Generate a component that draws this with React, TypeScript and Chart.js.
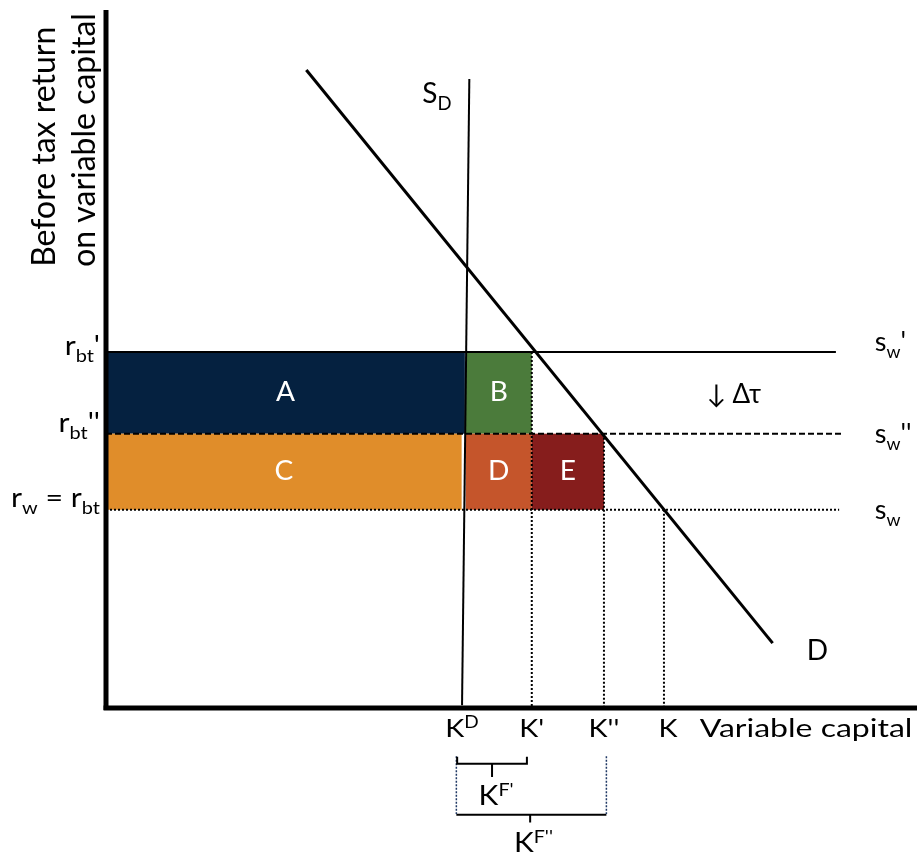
import React, { useEffect, useRef } from 'react';
import { Chart, registerables } from 'chart.js';

Chart.register(...registerables);

// ---- data (abstract units: x = capital, y = before-tax return) ----
const kLevels = [43.9, 52.5, 61.4, 68.8]; // K^D, K', K'', K
const rLevels = [51.0, 39.3, 28.4]; // r_bt', r_bt'', r_w = r_bt
const supplyEnds = [90.0, 90.9, 90.4]; // right ends of s_w', s_w'', s_w
const demandPts = [
  { x: 24.7, y: 91.4 },
  { x: 82.2, y: 9.3 },
];
const domesticSupplyPts = [
  { x: 44.8, y: 90.1 },
  { x: 43.9, y: 0.4 },
];
const areaLabels = ['A', 'B', 'C', 'D', 'E'];
const areaColors = ['#052140', '#4B7B3B', '#E08D2A', '#C5552B', '#861D1C'];
const areaX0 = [0, 44.35, 0, 44.35, kLevels[1]];
const areaX1 = [44.25, kLevels[1], 43.85, kLevels[1], kLevels[2]];
const areaY0 = [rLevels[1], rLevels[1], rLevels[2], rLevels[2], rLevels[2]];
const areaY1 = [rLevels[0], rLevels[0], rLevels[1], rLevels[1], rLevels[1]];
// brackets below the axis
const smallBracketX = [43.3, 51.9];
const bigBracketX = [43.2, 61.7];

const FONT = 'Lato, "Open Sans", sans-serif';

type Seg = { t: string; s?: 'sub' | 'sup' };

function drawRich(
  ctx: CanvasRenderingContext2D,
  segs: Seg[],
  x: number,
  y: number,
  size: number,
  align: 'left' | 'center' | 'right',
  color: string,
  baseline: CanvasTextBaseline = 'alphabetic',
  sx = 1
) {
  const small = size * 0.66;
  ctx.save();
  ctx.fillStyle = color;
  ctx.textBaseline = baseline;
  ctx.textAlign = 'left';
  let total = 0;
  const widths = segs.map((sg) => {
    ctx.font = `${sg.s ? small : size}px ${FONT}`;
    const w = ctx.measureText(sg.t).width;
    total += w;
    return w;
  });
  const start = align === 'left' ? x : align === 'center' ? x - (total * sx) / 2 : x - total * sx;
  ctx.translate(start, y);
  ctx.scale(sx, 1);
  let cx = 0;
  segs.forEach((sg, i) => {
    ctx.font = `${sg.s ? small : size}px ${FONT}`;
    const dy = sg.s === 'sub' ? size * 0.26 : sg.s === 'sup' ? -size * 0.36 : 0;
    ctx.fillText(sg.t, cx, dy);
    cx += widths[i];
  });
  ctx.restore();
}

const annotatePlugin = {
  id: 'annotate',
  beforeDatasetsDraw(chart: any) {
    const { ctx } = chart;
    const xs = chart.scales.x;
    const ys = chart.scales.y;
    ctx.save();
    areaLabels.forEach((_, i) => {
      const l = xs.getPixelForValue(areaX0[i]);
      const r = xs.getPixelForValue(areaX1[i]);
      const t = ys.getPixelForValue(areaY1[i]);
      const b = ys.getPixelForValue(areaY0[i]);
      ctx.fillStyle = areaColors[i];
      ctx.fillRect(l, t, r - l, b - t);
    });
    ctx.restore();
  },
  afterDatasetsDraw(chart: any) {
    const { ctx } = chart;
    const xs = chart.scales.x;
    const ys = chart.scales.y;
    const X = (v: number) => xs.getPixelForValue(v);
    const Y = (v: number) => ys.getPixelForValue(v);

    // area letters
    areaLabels.forEach((lab, i) => {
      const cx = X((areaX0[i] + areaX1[i]) / 2);
      const cy = Y((areaY0[i] + areaY1[i]) / 2);
      drawRich(ctx, [{ t: lab }], cx, cy, 26, 'center', '#ffffff', 'middle', 1.08);
    });

    // x tick labels
    const tickY = Y(-4.15);
    const KS = 1.15;
    drawRich(ctx, [{ t: 'K' }, { t: 'D', s: 'sup' }], X(kLevels[0]), tickY, 25, 'center', '#000', 'alphabetic', KS);
    drawRich(ctx, [{ t: "K'" }], X(kLevels[1]), tickY, 25, 'center', '#000', 'alphabetic', KS);
    drawRich(ctx, [{ t: "K''" }], X(kLevels[2]), tickY, 25, 'center', '#000', 'alphabetic', KS);
    drawRich(ctx, [{ t: 'K' }], X(kLevels[3]) + 4, tickY, 25, 'center', '#000', 'alphabetic', KS);
    drawRich(ctx, [{ t: 'Variable capital' }], X(73.2), tickY, 25, 'left', '#000', 'alphabetic', 1.28);

    // bracket labels
    drawRich(ctx, [{ t: 'K' }, { t: "F'", s: 'sup' }], X(48.1), Y(-13.9), 26, 'center', '#000', 'alphabetic', KS);
    drawRich(ctx, [{ t: 'K' }, { t: "F''", s: 'sup' }], X(52.7), Y(-20.7), 26, 'center', '#000', 'alphabetic', KS);

    // y tick labels
    const rx = X(-0.74);
    const RS = 1.12;
    drawRich(ctx, [{ t: 'r' }, { t: 'bt', s: 'sub' }, { t: "'" }], rx, Y(50.6), 27, 'right', '#000', 'alphabetic', RS);
    drawRich(ctx, [{ t: 'r' }, { t: 'bt', s: 'sub' }, { t: "''" }], rx, Y(39.5), 27, 'right', '#000', 'alphabetic', RS);
    drawRich(
      ctx,
      [{ t: 'r' }, { t: 'w', s: 'sub' }, { t: ' = r' }, { t: 'bt', s: 'sub' }],
      rx,
      Y(28.8),
      27,
      'right',
      '#000',
      'alphabetic',
      RS
    );

    // supply labels
    const sx = X(94.8);
    drawRich(ctx, [{ t: 's' }, { t: 'w', s: 'sub' }, { t: "'" }], sx, Y(51.1), 27, 'left', '#000');
    drawRich(ctx, [{ t: 's' }, { t: 'w', s: 'sub' }, { t: "''" }], sx, Y(38.0), 27, 'left', '#000');
    drawRich(ctx, [{ t: 's' }, { t: 'w', s: 'sub' }], sx, Y(27.1), 27, 'left', '#000');

    // tax change
    drawRich(ctx, [{ t: '\u2193 \u0394\u03C4' }], X(77.4), Y(43.7), 26, 'center', '#000');

    // curve labels
    drawRich(ctx, [{ t: 'S' }, { t: 'D', s: 'sub' }], X(39.0), Y(86.7), 28, 'left', '#000');
    drawRich(ctx, [{ t: 'D' }], X(86.4), Y(6.9), 28, 'left', '#000');

    // y axis title (rotated)
    const titles = [
      { t: 'Before tax return', x: -6.3 },
      { t: 'on variable capital', x: -1.3 },
    ];
    titles.forEach((tt) => {
      ctx.save();
      ctx.translate(X(tt.x), Y(63.2));
      ctx.rotate(-Math.PI / 2);
      drawRich(ctx, [{ t: tt.t }], 0, 0, 32, 'left', '#000');
      ctx.restore();
    });
  },
};

function seg(points: { x: number; y: number }[], width: number, dash: number[] = [], color = '#000') {
  return {
    data: points,
    showLine: true,
    pointRadius: 0,
    borderColor: color,
    borderWidth: width,
    borderDash: dash,
    fill: false,
    clip: false as any,
    tension: 0,
  };
}

export default function App() {
  const ref = useRef<HTMLCanvasElement | null>(null);

  useEffect(() => {
    if (!ref.current) return;
    const dot = [2, 2];
    const datasets: any[] = [
      // supply schedules
      seg([{ x: 0, y: rLevels[0] }, { x: supplyEnds[0], y: rLevels[0] }], 2),
      seg([{ x: 0, y: rLevels[1] }, { x: supplyEnds[1], y: rLevels[1] }], 2, [6, 3]),
      seg([{ x: 0, y: rLevels[2] }, { x: supplyEnds[2], y: rLevels[2] }], 2, dot),
      // vertical drop lines
      seg([{ x: kLevels[1], y: rLevels[0] }, { x: kLevels[1], y: 0 }], 2, dot),
      seg([{ x: kLevels[2], y: rLevels[1] }, { x: kLevels[2], y: 0 }], 2, dot),
      seg([{ x: kLevels[3], y: rLevels[2] }, { x: kLevels[3], y: 0 }], 2, dot),
      // curves
      seg(domesticSupplyPts, 2),
      seg(demandPts, 3),
      // axes
      seg([{ x: 0, y: -0.3 }, { x: 0, y: 100 }], 5),
      seg([{ x: -0.3, y: 0 }, { x: 100, y: 0 }], 5),
      // small bracket K^F'
      seg(
        [
          { x: smallBracketX[0], y: -7.0 },
          { x: smallBracketX[0], y: -8.0 },
          { x: smallBracketX[1], y: -8.0 },
          { x: smallBracketX[1], y: -7.0 },
        ],
        2
      ),
      seg([{ x: (smallBracketX[0] + smallBracketX[1]) / 2, y: -8.0 }, { x: (smallBracketX[0] + smallBracketX[1]) / 2, y: -9.9 }], 2),
      // big bracket K^F''
      seg([{ x: bigBracketX[0], y: -6.9 }, { x: bigBracketX[0], y: -15.2 }], 1.5, [2, 1.5], '#1F3864'),
      seg([{ x: bigBracketX[1], y: -6.9 }, { x: bigBracketX[1], y: -15.2 }], 1.5, [2, 1.5], '#1F3864'),
      seg([{ x: bigBracketX[0], y: -15.3 }, { x: bigBracketX[1], y: -15.3 }], 2),
      seg([{ x: 52.3, y: -15.3 }, { x: 52.3, y: -16.4 }], 2),
    ];

    const chart = new Chart(ref.current, {
      type: 'scatter',
      data: { datasets },
      options: {
        animation: false,
        responsive: false,
        devicePixelRatio: 1,
        events: [],
        layout: { padding: { left: 106, right: 0, top: 10, bottom: 146 } },
        plugins: { legend: { display: false }, tooltip: { enabled: false } },
        scales: {
          x: { type: 'linear', min: 0, max: 100, display: false },
          y: { type: 'linear', min: 0, max: 100, display: false },
        },
      },
      plugins: [annotatePlugin],
    });
    return () => chart.destroy();
  }, []);

  return (
    <div style={{ position: 'fixed', left: 0, top: 0, width: 917, height: 854, background: '#fff' }}>
      <canvas ref={ref} width={917} height={854} style={{ display: 'block' }} />
    </div>
  );
}
